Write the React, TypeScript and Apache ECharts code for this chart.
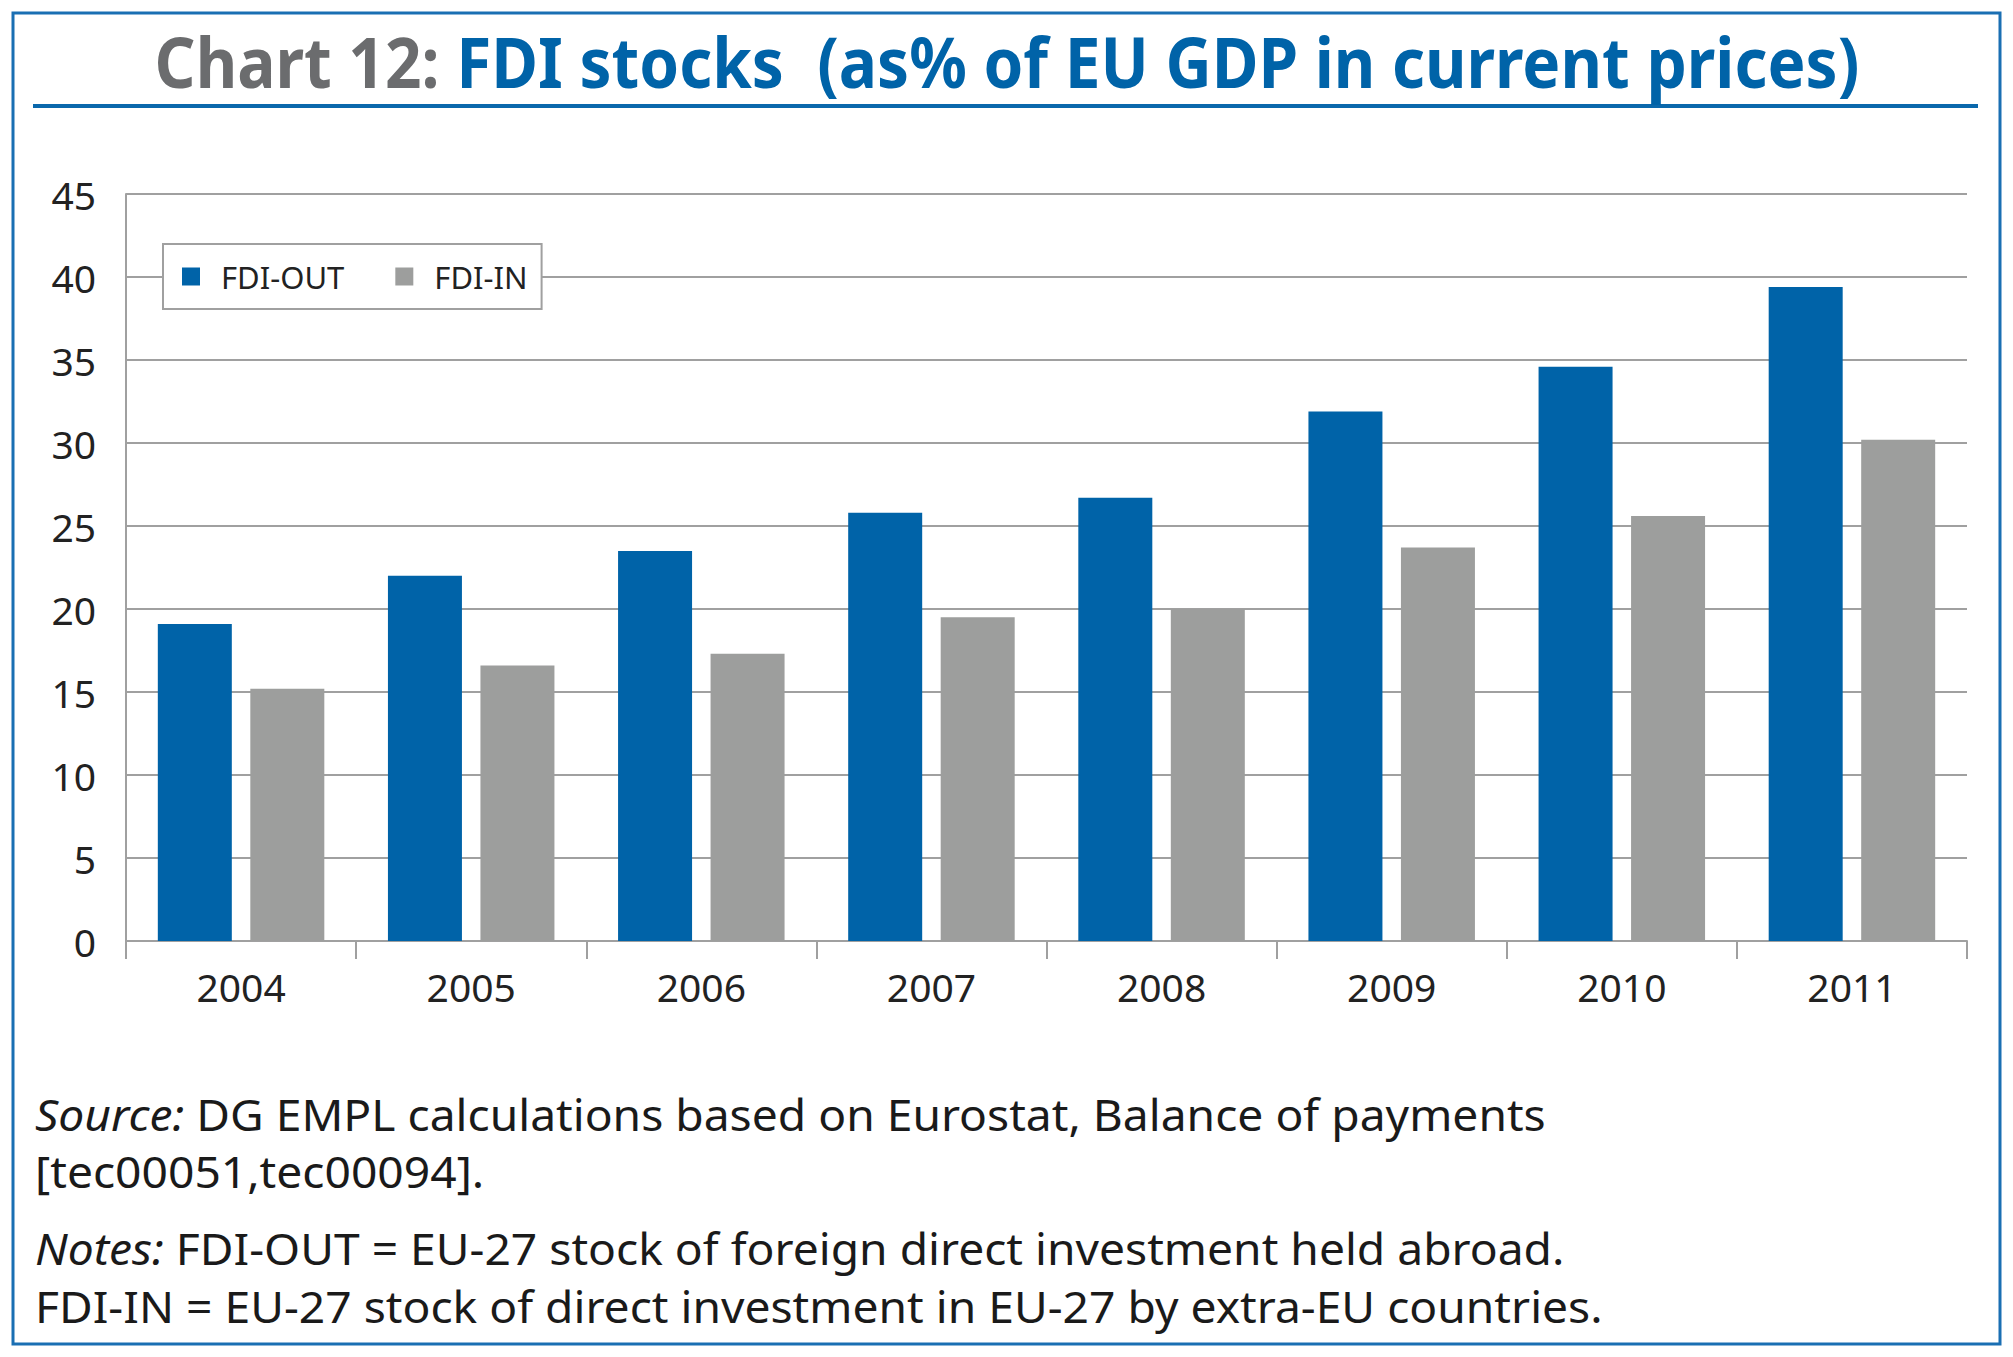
import React, { useEffect, useRef } from "react";
import * as echarts from "echarts";

const years = ["2004", "2005", "2006", "2007", "2008", "2009", "2010", "2011"];
const fdiOut = [19.1, 22.0, 23.5, 25.8, 26.7, 31.9, 34.6, 39.4];
const fdiIn = [15.2, 16.6, 17.3, 19.5, 20.0, 23.7, 25.6, 30.2];
const seriesNames = ["FDI-OUT", "FDI-IN"];
const titleGray = "Chart 12:";
const titleBlue = "FDI stocks  (as% of EU GDP in current prices)";
const footerLines = [
  "{i|Source:} DG EMPL calculations based on Eurostat, Balance of payments",
  "[tec00051,tec00094].",
  "{i|Notes:} FDI-OUT = EU-27 stock of foreign direct investment held abroad.",
  "FDI-IN = EU-27 stock of direct investment in EU-27 by extra-EU countries.",
];

const BLUE = "#0063a8";
const GRAY = "#9d9e9d";
const FONT = "Noto Sans";

export default function App() {
  const ref = useRef<HTMLDivElement>(null);
  useEffect(() => {
    document.body.style.margin = "0";
    const chart = echarts.init(ref.current!, null, { renderer: "svg" });
    const footerY = [1114, 1171, 1248, 1306];
    chart.setOption({
      animation: false,
      backgroundColor: "#ffffff",
      textStyle: { fontFamily: FONT },
      grid: { left: 126, top: 194, right: 46, bottom: 416, containLabel: false },
      legend: {
        left: 163,
        top: 244,
        orient: "horizontal",
        data: seriesNames,
        icon: "rect",
        itemWidth: 18,
        itemHeight: 18,
        itemGap: 51,
        backgroundColor: "#ffffff",
        borderColor: "#a0a0a0",
        borderWidth: 2,
        padding: [17, 14, 17, 19],
        textStyle: { fontSize: 31, color: "#222", fontFamily: FONT, padding: [0, 0, 0, 16] },
      },
      xAxis: {
        type: "category",
        data: years,
        boundaryGap: true,
        axisLine: { show: true, lineStyle: { color: "#a0a0a0", width: 2 } },
        axisTick: { show: true, length: 18, lineStyle: { color: "#a0a0a0", width: 2 } },
        axisLabel: { fontSize: 39, color: "#222", margin: 26, fontFamily: FONT },
      },
      yAxis: {
        type: "value",
        min: 0,
        max: 45,
        interval: 5,
        axisLine: { show: true, lineStyle: { color: "#a0a0a0", width: 2 } },
        axisTick: { show: false },
        splitLine: { show: true, lineStyle: { color: "#a0a0a0", width: 2 } },
        axisLabel: { fontSize: 39, color: "#222", margin: 30, fontFamily: FONT },
      },
      series: [
        {
          name: seriesNames[0],
          type: "bar",
          data: fdiOut,
          barWidth: 74,
          barGap: "25%",
          itemStyle: { color: BLUE },
        },
        {
          name: seriesNames[1],
          type: "bar",
          data: fdiIn,
          barWidth: 74,
          barGap: "25%",
          itemStyle: { color: GRAY },
        },
      ],
      graphic: [
        {
          type: "rect",
          shape: { x: 13, y: 13, width: 1987, height: 1331 },
          style: { fill: "none", stroke: "#1a6fb3", lineWidth: 3 },
          silent: true,
        },
        {
          type: "line",
          shape: { x1: 33, y1: 106, x2: 1978, y2: 106 },
          style: { stroke: "#0a68ac", lineWidth: 4 },
          silent: true,
        },
        {
          type: "text",
          x: 1007,
          y: 61,
          scaleX: 0.913,
          style: {
            text: "{g|" + titleGray + "} {b|" + titleBlue + "}",
            align: "center",
            verticalAlign: "middle",
            rich: {
              g: { fill: "#6b6c6e", fontSize: 70, fontWeight: "bold", fontFamily: FONT },
              b: { fill: BLUE, fontSize: 70, fontWeight: "bold", fontFamily: FONT },
            },
            fontSize: 70,
            fontFamily: FONT,
          },
        },
        ...footerLines.map((t, i) => ({
          type: "text",
          x: 35,
          y: footerY[i],
          scaleX: 1.05,
          style: {
            text: t,
            align: "left",
            verticalAlign: "middle",
            fontSize: 44,
            fontFamily: FONT,
            fill: "#1a1a1a",
            rich: {
              i: { fontStyle: "italic", fontSize: 44, fontFamily: FONT, fill: "#1a1a1a" },
            },
          },
        })),
      ],
    });
    return () => chart.dispose();
  }, []);
  return <div ref={ref} style={{ width: 2013, height: 1357 }} />;
}
